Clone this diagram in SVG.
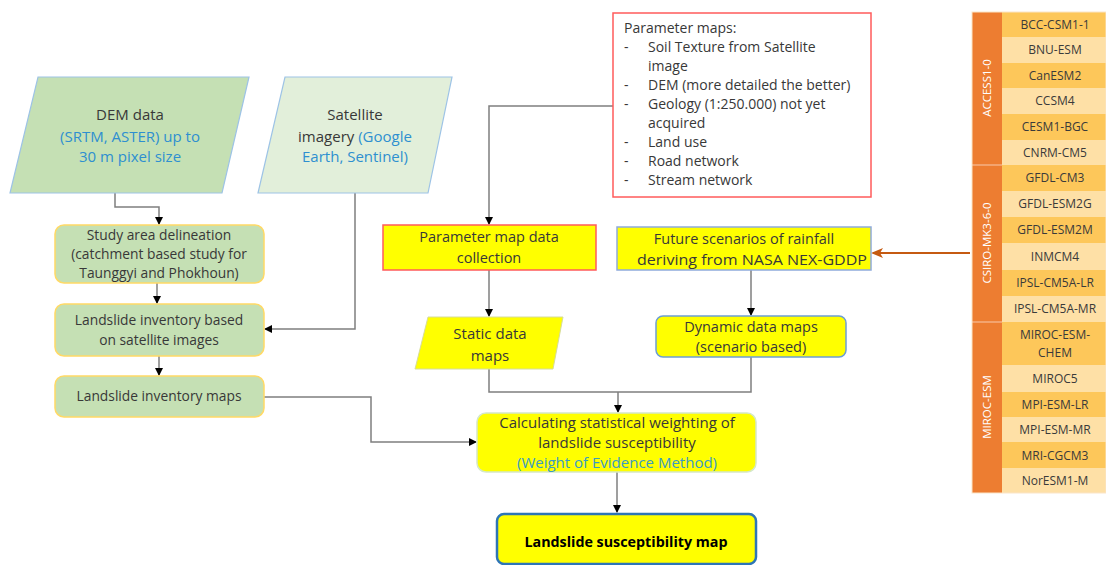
<svg xmlns="http://www.w3.org/2000/svg" width="1106" height="565" viewBox="0 0 1106 565">
  <style>
    text { font-family: "Open Sans", "Liberation Sans", sans-serif; fill: #383838; }
    .t { font-size: 13.8px; text-anchor: middle; }
    .big { font-size: 15px; }
    .mid { font-size: 14.5px; }
    .tl { font-size: 14px; }
    .blue { fill: #2e8fd0; }
    .conn { fill: none; stroke: #7f7f7f; stroke-width: 1.5; }
    .green { fill: #c5e0b4; stroke: #ffd966; stroke-width: 1.5; }
    .yel { fill: #ffff00; }
    .cell { font-size: 12px; text-anchor: middle; fill: #3a3a3a; }
    .grp { font-size: 11.5px; text-anchor: middle; fill: #ffffff; }
    .rowA { fill: #fdc75a; }
    .rowB { fill: #fee0a6; }
  </style>
  <defs>
    <marker id="arr" markerWidth="8" markerHeight="8" refX="7" refY="4" orient="auto" markerUnits="userSpaceOnUse">
      <path d="M0,0 L8,4 L0,8 Z" fill="#000"/>
    </marker>
    <marker id="arrO" markerWidth="12" markerHeight="10" refX="10" refY="5" orient="auto" markerUnits="userSpaceOnUse">
      <path d="M0,0 L12,5 L0,10 L3,5 Z" fill="#c55a11"/>
    </marker>
  </defs>

  <!-- connectors -->
  <g id="connectors">
    <path class="conn" d="M115,193 V207 H159 V224" marker-end="url(#arr)"/>
    <path class="conn" d="M157,283 V303" marker-end="url(#arr)"/>
    <path class="conn" d="M159,356 V375" marker-end="url(#arr)"/>
    <path class="conn" d="M355,193 V329 H265" marker-end="url(#arr)"/>
    <path class="conn" d="M264,397 H371 V442 H476" marker-end="url(#arr)"/>
    <path class="conn" d="M613,106 H489 V224" marker-end="url(#arr)"/>
    <path class="conn" d="M489,270 V316" marker-end="url(#arr)"/>
    <path class="conn" d="M751,270 V315" marker-end="url(#arr)"/>
    <path class="conn" d="M489,369 V392 H751 V357"/>
    <path class="conn" d="M618,392 V412" marker-end="url(#arr)"/>
    <path class="conn" d="M617,472 V512" marker-end="url(#arr)"/>
    <path d="M970,253 H873" fill="none" stroke="#c55a11" stroke-width="2" marker-end="url(#arrO)"/>
  </g>

  <!-- DEM data -->
  <g id="dem">
    <polygon points="38,77 249,77 222,193 10,193" fill="#c5e0b4" stroke="#9dc3e6" stroke-width="1.2"/>
    <text class="t big" x="130" y="120">DEM data</text>
    <text class="t big blue" x="130" y="142">(SRTM, ASTER) up to</text>
    <text class="t big blue" x="130" y="162">30 m pixel size</text>
  </g>

  <!-- Satellite imagery -->
  <g id="satellite">
    <polygon points="285,77 452,77 428,193 258,193" fill="#e2efda" stroke="#9dc3e6" stroke-width="1.2"/>
    <text class="t big" x="355" y="120">Satellite</text>
    <text class="t big" x="355" y="142">imagery <tspan class="blue">(Google</tspan></text>
    <text class="t big blue" x="355" y="162">Earth, Sentinel)</text>
  </g>

  <!-- Study area delineation -->
  <g id="study-area">
    <rect class="green" x="55" y="225" width="209" height="58" rx="9"/>
    <text class="t" x="159" y="240">Study area delineation</text>
    <text class="t" x="159" y="259">(catchment based study for</text>
    <text class="t" x="159" y="278">Taunggyi and Phokhoun)</text>
  </g>

  <!-- Landslide inventory -->
  <g id="inventory">
    <rect class="green" x="55" y="304" width="209" height="52" rx="9"/>
    <text class="t" x="159" y="325">Landslide inventory based</text>
    <text class="t" x="159" y="345">on satellite images</text>
  </g>

  <!-- Landslide inventory maps -->
  <g id="inventory-maps">
    <rect class="green" x="55" y="376" width="209" height="41" rx="9"/>
    <text class="t" x="159" y="401">Landslide inventory maps</text>
  </g>

  <!-- Parameter maps list -->
  <g id="parameter-maps">
    <rect x="613" y="13" width="258" height="184" fill="#fff" stroke="#ff5b5b" stroke-width="1.5"/>
    <text class="tl" x="624" y="33">Parameter maps:</text>
    <text class="tl" x="624" y="52">-</text><text class="tl" x="648" y="52">Soil Texture from Satellite</text>
    <text class="tl" x="648" y="71">image</text>
    <text class="tl" x="624" y="90">-</text><text class="tl" x="648" y="90">DEM (more detailed the better)</text>
    <text class="tl" x="624" y="109">-</text><text class="tl" x="648" y="109">Geology (1:250.000) not yet</text>
    <text class="tl" x="648" y="128">acquired</text>
    <text class="tl" x="624" y="147">-</text><text class="tl" x="648" y="147">Land use</text>
    <text class="tl" x="624" y="166">-</text><text class="tl" x="648" y="166">Road network</text>
    <text class="tl" x="624" y="185">-</text><text class="tl" x="648" y="185">Stream network</text>
  </g>

  <!-- Parameter map data collection -->
  <g id="param-collection">
    <rect class="yel" x="383" y="225" width="213" height="45" stroke="#ff5b5b" stroke-width="1.5"/>
    <text class="t mid" x="489" y="242">Parameter map data</text>
    <text class="t mid" x="489" y="263">collection</text>
  </g>

  <!-- Future scenarios -->
  <g id="future-scenarios">
    <rect class="yel" x="617" y="227" width="254" height="43" stroke="#8faadc" stroke-width="1.5"/>
    <text class="t mid" x="744" y="244">Future scenarios of rainfall</text>
    <text class="t mid" x="752" y="265" textLength="230" lengthAdjust="spacingAndGlyphs">deriving from NASA NEX-GDDP</text>
  </g>

  <!-- Static data maps -->
  <g id="static-maps">
    <polygon class="yel" points="428,317 563,317 553,369 415,369" stroke="#d6dc9a" stroke-width="1"/>
    <text class="t big" x="490" y="339">Static data</text>
    <text class="t big" x="490" y="361">maps</text>
  </g>

  <!-- Dynamic data maps -->
  <g id="dynamic-maps">
    <rect class="yel" x="656" y="316" width="190" height="41" rx="7" stroke="#6d9ed4" stroke-width="1.5"/>
    <text class="t mid" x="751" y="332">Dynamic data maps</text>
    <text class="t mid" x="751" y="352">(scenario based)</text>
  </g>

  <!-- Weighting calculation -->
  <g id="weighting">
    <rect class="yel" x="477" y="413" width="279" height="59" rx="9" stroke="#d5e8c8" stroke-width="1.5"/>
    <text class="t big" x="617" y="428">Calculating statistical weighting of</text>
    <text class="t big" x="617" y="448">landslide susceptibility</text>
    <text class="t big" x="617" y="468" style="fill:#3a9bc4">(Weight of Evidence Method)</text>
  </g>

  <!-- Susceptibility map -->
  <g id="susceptibility-map">
    <rect class="yel" x="497" y="514" width="259" height="50" rx="7" stroke="#2e75b6" stroke-width="2.5"/>
    <text class="t" x="626" y="547" style="font-size:14.3px;font-weight:bold;fill:#000">Landslide susceptibility map</text>
  </g>

  <!-- GCM model table -->
  <g id="gcm-table">
    <rect x="972" y="12" width="30" height="481" fill="#ed7d31"/>
    <line x1="972" y1="165" x2="1002" y2="165" stroke="#f4b183" stroke-width="1.5"/>
    <line x1="972" y1="322" x2="1002" y2="322" stroke="#f4b183" stroke-width="1.5"/>
    <text class="grp" transform="translate(991,88) rotate(-90)">ACCESS1-0</text>
    <text class="grp" transform="translate(991,243) rotate(-90)">CSIRO-MK3-6-0</text>
    <text class="grp" transform="translate(991,407) rotate(-90)">MIROC-ESM</text>

    <rect class="rowA" x="1002" y="12" width="104" height="25"/>
    <rect class="rowB" x="1002" y="37" width="104" height="26"/>
    <rect class="rowA" x="1002" y="63" width="104" height="25"/>
    <rect class="rowB" x="1002" y="88" width="104" height="26"/>
    <rect class="rowA" x="1002" y="114" width="104" height="26"/>
    <rect class="rowB" x="1002" y="140" width="104" height="25"/>
    <rect class="rowA" x="1002" y="165" width="104" height="26"/>
    <rect class="rowB" x="1002" y="191" width="104" height="26"/>
    <rect class="rowA" x="1002" y="217" width="104" height="26"/>
    <rect class="rowB" x="1002" y="243" width="104" height="27"/>
    <rect class="rowA" x="1002" y="270" width="104" height="26"/>
    <rect class="rowB" x="1002" y="296" width="104" height="26"/>
    <rect class="rowA" x="1002" y="322" width="104" height="43"/>
    <rect class="rowB" x="1002" y="365" width="104" height="27"/>
    <rect class="rowA" x="1002" y="392" width="104" height="25"/>
    <rect class="rowB" x="1002" y="417" width="104" height="25"/>
    <rect class="rowA" x="1002" y="442" width="104" height="26"/>
    <rect class="rowB" x="1002" y="468" width="104" height="25"/>

    <text class="cell" x="1055" y="29">BCC-CSM1-1</text>
    <text class="cell" x="1055" y="54">BNU-ESM</text>
    <text class="cell" x="1055" y="80">CanESM2</text>
    <text class="cell" x="1055" y="105">CCSM4</text>
    <text class="cell" x="1055" y="131">CESM1-BGC</text>
    <text class="cell" x="1055" y="157">CNRM-CM5</text>
    <text class="cell" x="1055" y="182">GFDL-CM3</text>
    <text class="cell" x="1055" y="208">GFDL-ESM2G</text>
    <text class="cell" x="1055" y="234">GFDL-ESM2M</text>
    <text class="cell" x="1055" y="261">INMCM4</text>
    <text class="cell" x="1055" y="287">IPSL-CM5A-LR</text>
    <text class="cell" x="1055" y="313">IPSL-CM5A-MR</text>
    <text class="cell" x="1055" y="339">MIROC-ESM-</text>
    <text class="cell" x="1055" y="357">CHEM</text>
    <text class="cell" x="1055" y="383">MIROC5</text>
    <text class="cell" x="1055" y="409">MPI-ESM-LR</text>
    <text class="cell" x="1055" y="434">MPI-ESM-MR</text>
    <text class="cell" x="1055" y="460">MRI-CGCM3</text>
    <text class="cell" x="1055" y="485">NorESM1-M</text>
    <rect x="972" y="12" width="134" height="481" fill="none" stroke="#fbe5c8" stroke-width="1"/>
  </g>
</svg>
